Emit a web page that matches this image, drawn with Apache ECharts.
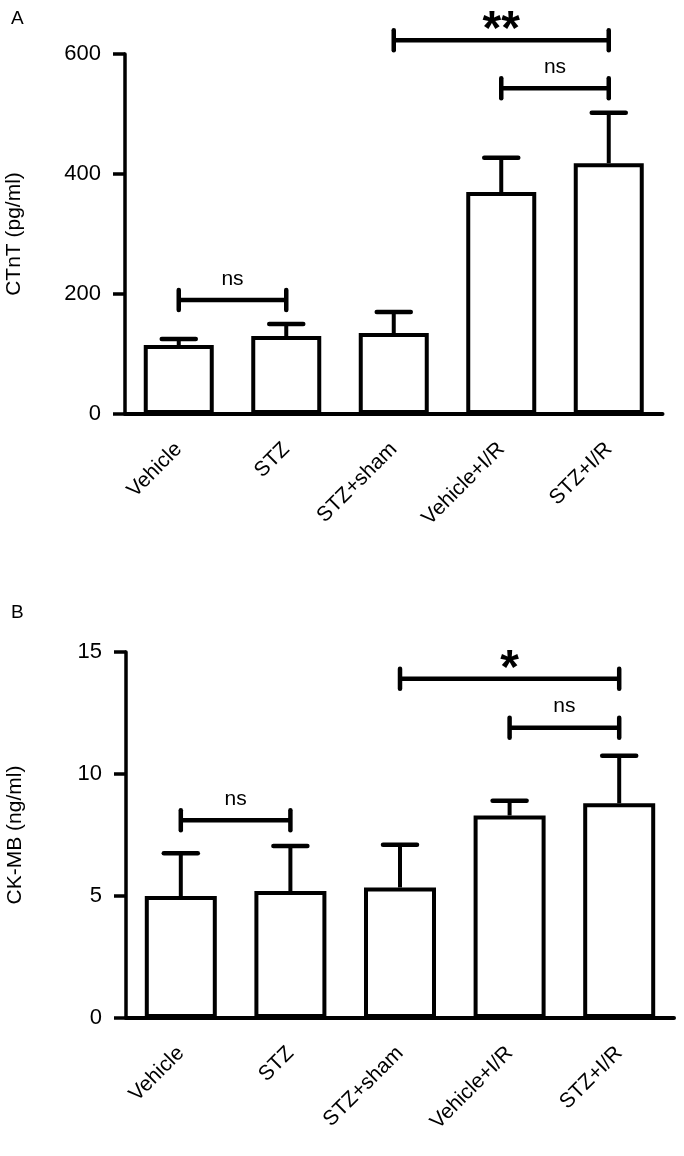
<!DOCTYPE html>
<html>
<head>
<meta charset="utf-8">
<script src="https://cdn.jsdelivr.net/npm/echarts@6/dist/echarts.min.js"></script>
<style>
html,body{margin:0;padding:0;background:#fff;}
#chart{width:684px;height:1156px;}
</style>
</head>
<body>
<div id="chart"></div>
<script>
var categories = ['Vehicle', 'STZ', 'STZ+sham', 'Vehicle+I/R', 'STZ+I/R'];

// Panel A: CTnT (pg/ml)
var ctntMean = [115, 130, 135, 370, 418];
var ctntErr  = [10, 20, 35, 57, 84];
var ctntTicks = [0, 200, 400, 600];
// brackets: [fromIndex, toIndex, yValue]
var ctntBrackets = [[0, 1, 190], [2, 4, 623], [3, 4, 543]];
var ctntBracketLabels = ['ns', '**', 'ns'];

// Panel B: CK-MB (ng/ml)
var ckmbMean = [5.0, 5.2, 5.35, 8.3, 8.8];
var ckmbErr  = [1.75, 1.85, 1.75, 0.6, 1.95];
var ckmbTicks = [0, 5, 10, 15];
var ckmbBrackets = [[0, 1, 8.1], [2, 4, 13.9], [3, 4, 11.9]];
var ckmbBracketLabels = ['ns', '*', 'ns'];

var FONT = "'Liberation Sans', Arial, sans-serif";

function errSeries(idx, mean, err) {
  return {
    type: 'custom', xAxisIndex: idx, yAxisIndex: idx, z: 3,
    data: mean.map(function (m, i) { return [i, m, m + err[i]]; }),
    renderItem: function (params, api) {
      var p0 = api.coord([api.value(0), api.value(1)]);
      var p1 = api.coord([api.value(0), api.value(2)]);
      return {
        type: 'group',
        children: [
          { type: 'line', shape: { x1: p0[0], y1: p0[1], x2: p1[0], y2: p1[1] },
            style: { stroke: '#000', lineWidth: 4 } },
          { type: 'line', shape: { x1: p1[0] - 17, y1: p1[1], x2: p1[0] + 17, y2: p1[1] },
            style: { stroke: '#000', lineWidth: 4.5, lineCap: 'round' } }
        ]
      };
    }
  };
}

function bracketSeries(idx, brackets, labels) {
  return {
    type: 'custom', xAxisIndex: idx, yAxisIndex: idx, z: 4,
    data: brackets,
    renderItem: function (params, api) {
      var a = api.coord([api.value(0), api.value(2)]);
      var b = api.coord([api.value(1), api.value(2)]);
      var lab = labels[params.dataIndex];
      var star = lab.indexOf('*') >= 0;
      return {
        type: 'group',
        children: [
          { type: 'line', shape: { x1: a[0], y1: a[1], x2: b[0], y2: b[1] },
            style: { stroke: '#000', lineWidth: 4.5 } },
          { type: 'line', shape: { x1: a[0], y1: a[1] - 10, x2: a[0], y2: a[1] + 10 },
            style: { stroke: '#000', lineWidth: 4.5, lineCap: 'round' } },
          { type: 'line', shape: { x1: b[0], y1: b[1] - 10, x2: b[0], y2: b[1] + 10 },
            style: { stroke: '#000', lineWidth: 4.5, lineCap: 'round' } },
          { type: 'text',
            x: (a[0] + b[0]) / 2, y: star ? a[1] - 9 : a[1] - 21,
            style: { text: lab, fill: '#000', align: 'center', verticalAlign: 'middle',
                     font: star ? 'bold 48px ' + FONT : '21px ' + FONT } }
        ]
      };
    }
  };
}

function xAx(gi) {
  return {
    type: 'category', gridIndex: gi, data: categories,
    axisLine: { lineStyle: { color: '#000', width: 4 } },
    axisTick: { alignWithLabel: true, length: 11, lineStyle: { color: '#000', width: 3 } },
    axisLabel: { rotate: 45, margin: 32, color: '#000', fontSize: 21, fontFamily: FONT }
  };
}
function yAx(gi, name, max, interval) {
  return {
    type: 'value', gridIndex: gi, min: 0, max: max, interval: interval,
    name: name, nameLocation: 'middle', nameRotate: 90, nameGap: 100,
    nameTextStyle: { color: '#000', fontSize: 21, fontFamily: FONT },
    splitLine: { show: false },
    axisLine: { show: true, lineStyle: { color: '#000', width: 3.5 } },
    axisTick: { show: true, length: 12, lineStyle: { color: '#000', width: 3.5 } },
    axisLabel: { margin: 24, color: '#000', fontSize: 22, fontFamily: FONT }
  };
}

var chart = echarts.init(document.getElementById('chart'), null, { renderer: 'canvas' });
chart.setOption({
  animation: false,
  backgroundColor: '#fff',
  title: [
    { text: 'A', left: 6, top: 4, textStyle: { fontSize: 19, fontWeight: 'normal', color: '#000', fontFamily: FONT } },
    { text: 'B', left: 6, top: 598, textStyle: { fontSize: 19, fontWeight: 'normal', color: '#000', fontFamily: FONT } }
  ],
  grid: [
    { left: 125, right: 21.5, top: 54, height: 360, containLabel: false, outerBoundsMode: 'none' },
    { left: 126, right: 10, top: 652, height: 366, containLabel: false, outerBoundsMode: 'none' }
  ],
  xAxis: [xAx(0), xAx(1)],
  yAxis: [yAx(0, 'CTnT (pg/ml)', ctntTicks[ctntTicks.length - 1], ctntTicks[1] - ctntTicks[0]),
          yAx(1, 'CK-MB (ng/ml)', ckmbTicks[ckmbTicks.length - 1], ckmbTicks[1] - ckmbTicks[0])],
  series: [
    { type: 'bar', xAxisIndex: 0, yAxisIndex: 0, data: ctntMean, barWidth: 70,
      itemStyle: { color: '#fff', borderColor: '#000', borderWidth: 4 } },
    errSeries(0, ctntMean, ctntErr),
    bracketSeries(0, ctntBrackets, ctntBracketLabels),
    { type: 'bar', xAxisIndex: 1, yAxisIndex: 1, data: ckmbMean, barWidth: 72,
      itemStyle: { color: '#fff', borderColor: '#000', borderWidth: 4 } },
    errSeries(1, ckmbMean, ckmbErr),
    bracketSeries(1, ckmbBrackets, ckmbBracketLabels)
  ]
});
</script>
</body>
</html>
